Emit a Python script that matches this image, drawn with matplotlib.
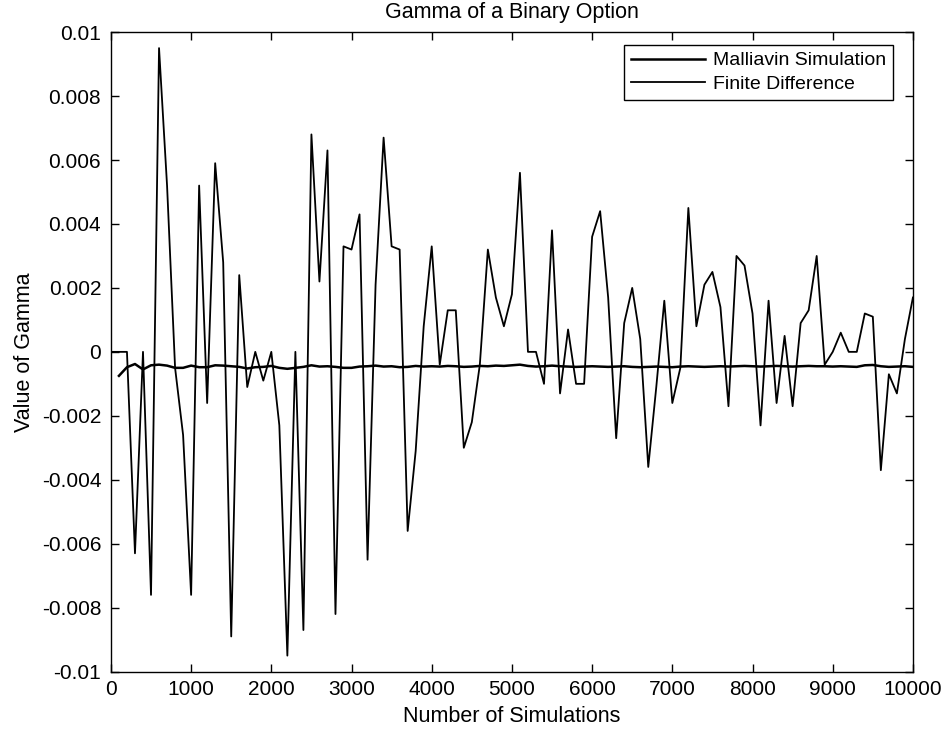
import matplotlib
matplotlib.use("Agg")
import matplotlib.pyplot as plt
import numpy as np

plt.rcParams['font.family'] = ['Liberation Sans', 'DejaVu Sans']

# Number of simulations
fd_x = list(range(0, 10001, 100))
mall_x = list(range(100, 10001, 100))

finite_difference = [
    0.0, 0.0, 0.0, -0.0063, 0.0, -0.0076, 0.0095, 0.0052, -0.0005, -0.0026,
    -0.0076, 0.0052, -0.0016, 0.0059, 0.0028, -0.0089, 0.0024, -0.0011, 0.0, -0.0009,
    0.0, -0.0023, -0.0095, 0.0, -0.0087, 0.0068, 0.0022, 0.0063, -0.0082, 0.0033,
    0.0032, 0.0043, -0.0065, 0.0021, 0.0067, 0.0033, 0.0032, -0.0056, -0.0031, 0.0008,
    0.0033, -0.0004, 0.0013, 0.0013, -0.0030, -0.0022, -0.0004, 0.0032, 0.0017, 0.0008,
    0.0018, 0.0056, 0.0000, 0.0000, -0.0010, 0.0038, -0.0013, 0.0007, -0.0010, -0.0010,
    0.0036, 0.0044, 0.0017, -0.0027, 0.0009, 0.0020, 0.0004, -0.0036, -0.0011, 0.0016,
    -0.0016, -0.0005, 0.0045, 0.0008, 0.0021, 0.0025, 0.0014, -0.0017, 0.0030, 0.0027,
    0.0012, -0.0023, 0.0016, -0.0016, 0.0005, -0.0017, 0.0009, 0.0013, 0.0030, -0.0004,
    0.0000, 0.0006, 0.0000, 0.0000, 0.0012, 0.0011, -0.0037, -0.0007, -0.0013, 0.0004,
    0.0017,
]

malliavin = [
    -0.00075, -0.00048, -0.00038, -0.00055, -0.00042, -0.00040, -0.00043, -0.00050, -0.00050, -0.00043,
    -0.00048, -0.00048, -0.00042, -0.00043, -0.00045, -0.00047, -0.00052, -0.00048, -0.00047, -0.00044,
    -0.00050, -0.00053, -0.00050, -0.00047, -0.00042, -0.00046, -0.00045, -0.00047, -0.00050, -0.00050,
    -0.00046, -0.00045, -0.00043, -0.00046, -0.00045, -0.00048, -0.00047, -0.00044, -0.00046, -0.00045,
    -0.00046, -0.00044, -0.00045, -0.00047, -0.00046, -0.00044, -0.00045, -0.00043, -0.00044, -0.00042,
    -0.00040, -0.00044, -0.00046, -0.00045, -0.00043, -0.00045, -0.00046, -0.00047, -0.00046, -0.00045,
    -0.00046, -0.00047, -0.00046, -0.00045, -0.00047, -0.00048, -0.00047, -0.00046, -0.00047, -0.00048,
    -0.00046, -0.00045, -0.00046, -0.00047, -0.00046, -0.00045, -0.00046, -0.00045, -0.00044, -0.00045,
    -0.00046, -0.00045, -0.00044, -0.00045, -0.00046, -0.00045, -0.00044, -0.00045, -0.00045, -0.00046,
    -0.00045, -0.00046, -0.00047, -0.00042, -0.00041, -0.00045, -0.00047, -0.00046, -0.00045, -0.00047,
]

x_ticks = list(range(0, 10001, 1000))
x_tick_labels = [str(v) for v in x_ticks]
y_ticks = [-0.01, -0.008, -0.006, -0.004, -0.002, 0, 0.002, 0.004, 0.006, 0.008, 0.01]
y_tick_labels = ['-0.01', '-0.008', '-0.006', '-0.004', '-0.002', '0',
                 '0.002', '0.004', '0.006', '0.008', '0.01']

fig = plt.figure(figsize=(9.48, 7.30), dpi=100)
ax = fig.add_axes([0.117, 0.080, 0.846, 0.876])

ax.plot(mall_x, malliavin, color='black', lw=1.8, label='Malliavin Simulation')
ax.plot(fd_x, finite_difference, color='black', lw=1.3, label='Finite Difference')

ax.set_xlim(0, 10000)
ax.set_ylim(-0.01, 0.01)
ax.set_xticks(x_ticks)
ax.set_xticklabels(x_tick_labels)
ax.set_yticks(y_ticks)
ax.set_yticklabels(y_tick_labels)
ax.tick_params(direction='in', top=True, right=True, length=6, width=1.0,
               labelsize=15, colors='black')
ax.tick_params(axis='x', pad=6)
ax.tick_params(axis='y', pad=7)
for s in ax.spines.values():
    s.set_linewidth(1.0)
    s.set_color('black')

ax.set_title('Gamma of a Binary Option', fontsize=15.5, pad=10)
ax.set_xlabel('Number of Simulations', fontsize=15.5, labelpad=5)
ax.set_ylabel('Value of Gamma', fontsize=15.5, labelpad=5)

leg = ax.legend(loc='upper right', bbox_to_anchor=(0.975, 0.98), borderaxespad=0,
                fontsize=14, frameon=True, fancybox=False,
                edgecolor='black', framealpha=1,
                handlelength=3.8, handletextpad=0.4, borderpad=0.35, labelspacing=0.3)
leg.get_frame().set_linewidth(1.0)

fig.savefig('out.png', dpi=100)
